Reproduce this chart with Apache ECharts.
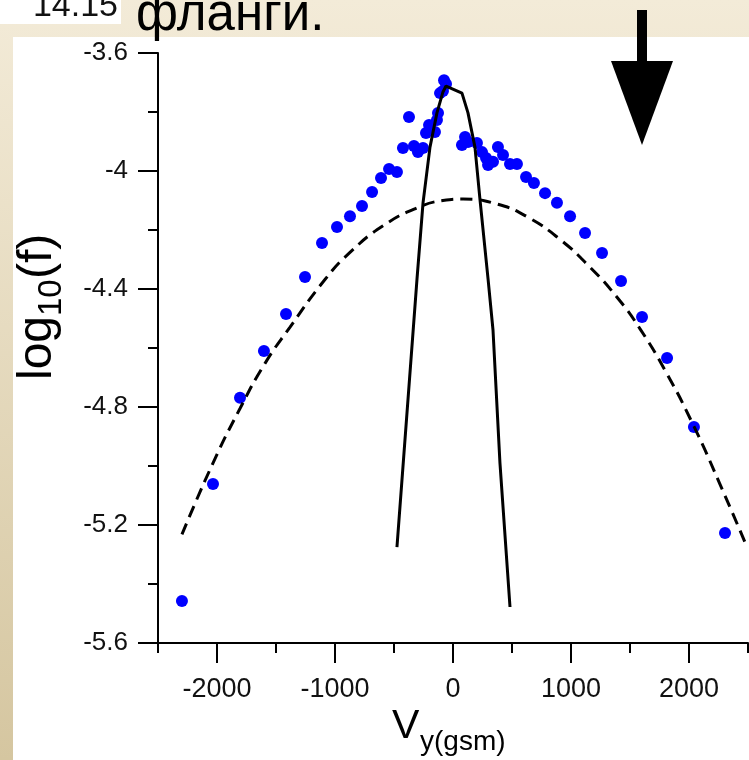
<!DOCTYPE html>
<html><head><meta charset="utf-8">
<script src="https://cdn.jsdelivr.net/npm/echarts@6/dist/echarts.min.js"></script>
<style>html,body{margin:0;padding:0;background:#fff}#c{width:749px;height:760px}</style>
</head><body><div id="c"></div>
<script>
// measured points (blue dots)
const scatterV = [-2297,-2034,-1805,-1602,-1415,-1254,-1110,-983,-873,-771,-686,-610,-542,-475,-424,-373,-331,-297,-254,-229,-203,-153,-136,-127,-110,-85,-59,-76,
  76,102,127,203,246,280,297,339,381,424,483,542,619,686,780,881,992,1119,1263,1424,1602,1814,2042,2305];
const scatterLogF = [-5.458,-5.061,-4.769,-4.610,-4.485,-4.359,-4.244,-4.190,-4.153,-4.119,-4.071,-4.024,-3.993,-4.003,-3.922,-3.817,-3.915,-3.936,-3.922,-3.871,-3.844,-3.868,-3.827,-3.803,-3.736,-3.729,-3.705,-3.692,
  -3.912,-3.885,-3.902,-3.905,-3.936,-3.956,-3.980,-3.969,-3.919,-3.946,-3.976,-3.976,-4.020,-4.041,-4.075,-4.108,-4.153,-4.210,-4.278,-4.373,-4.495,-4.634,-4.868,-5.227];
// dashed curve
const dashedV = [-2297,-2034,-1805,-1593,-1381,-1085,-873,-593,-305,-85,85,373,636,907,1161,1390,1585,1814,2042,2263,2492];
const dashedLogF = [-5.232,-4.990,-4.805,-4.652,-4.529,-4.368,-4.276,-4.186,-4.125,-4.100,-4.095,-4.112,-4.157,-4.232,-4.326,-4.428,-4.535,-4.688,-4.866,-5.062,-5.275];
// solid narrow curve
const solidV = [-475,-305,-254,-195,-136,-85,-59,76,127,186,229,297,339,398,483];
const solidLogF = [-5.275,-4.366,-4.108,-3.919,-3.803,-3.732,-3.712,-3.736,-3.803,-3.919,-4.098,-4.366,-4.539,-4.990,-5.478];
// ticks
const xMajorTicks = [-2000,-1000,0,1000,2000];
const xMinorTicks = [-2500,-1500,-500,500,1500,2500];
const yMin = -5.6, yMax = -3.6, yStep = 0.4;
const xMin = -2500, xMax = 2500;

const FONT = '"Liberation Sans", Arial, sans-serif';
const zip = (a, b) => a.map((v, i) => [v, b[i]]);

const chart = echarts.init(document.getElementById('c'), null, {renderer: 'canvas'});
chart.setOption({
  animation: false,
  backgroundColor: {type: 'linear', x: 0, y: 0, x2: 0, y2: 1,
    colorStops: [{offset: 0, color: '#f3ebd8'}, {offset: 1, color: '#d5c6a0'}]},
  grid: {left: 158, right: 1, top: 53, bottom: 117, containLabel: false},
  xAxis: [{
    type: 'value', min: xMin, max: xMax,
    axisLine: {show: true, onZero: false, lineStyle: {color: '#000', width: 2}},
    axisTick: {show: true, customValues: xMajorTicks, length: 20, lineStyle: {color: '#000', width: 2}},
    axisLabel: {customValues: xMajorTicks, margin: 33, fontSize: 27, color: '#111', fontFamily: FONT,
      formatter: v => String(v)},
    splitLine: {show: false}
  }, {
    type: 'value', min: xMin, max: xMax, position: 'bottom',
    axisLine: {show: false},
    axisTick: {show: true, customValues: xMinorTicks, length: 10, lineStyle: {color: '#000', width: 2}},
    axisLabel: {show: false},
    splitLine: {show: false}
  }],
  yAxis: {
    type: 'value', min: yMin, max: yMax, interval: yStep,
    axisLine: {show: true, onZero: false, lineStyle: {color: '#000', width: 2}},
    axisTick: {show: true, length: 20, lineStyle: {color: '#000', width: 2}},
    minorTick: {show: true, splitNumber: 2, length: 10, lineStyle: {color: '#000', width: 2}},
    axisLabel: {margin: 30, fontSize: 26, color: '#111', fontFamily: FONT,
      formatter: v => String(Number(v.toFixed(1)))},
    splitLine: {show: false}
  },
  graphic: [
    {type: 'rect', z: -10, shape: {x: 13, y: 37, width: 736, height: 723}, style: {fill: '#ffffff'}},
    {type: 'rect', z: -10, shape: {x: 0, y: 0, width: 121, height: 24}, style: {fill: '#ffffff'}},
    {type: 'text', z: 5, x: 118, y: 7, style: {text: '14.15', font: '34px ' + FONT, fill: '#111', align: 'right', verticalAlign: 'middle'}},
    {type: 'text', z: 5, x: 136, y: 16, style: {text: 'фланги.', font: '51px ' + FONT, fill: '#000', align: 'left', verticalAlign: 'middle'}},
    {type: 'rect', z: 5, shape: {x: 637, y: 10, width: 10, height: 52}, style: {fill: '#000'}},
    {type: 'polygon', z: 5, shape: {points: [[611, 61], [673, 61], [642, 145]]}, style: {fill: '#000'}},
    // x axis name
    {type: 'text', z: 5, x: 392, y: 727, style: {text: 'V', font: '41px ' + FONT, fill: '#000', align: 'left', verticalAlign: 'middle'}},
    {type: 'text', z: 5, x: 420, y: 742, style: {text: 'y(gsm)', font: '28px ' + FONT, fill: '#000', align: 'left', verticalAlign: 'middle'}},
    // y axis name (rotated)
    {type: 'text', z: 5, x: 38, y: 380, rotation: Math.PI / 2, style: {text: 'log', font: '48px ' + FONT, fill: '#000', align: 'left', verticalAlign: 'middle'}},
    {type: 'text', z: 5, x: 52, y: 316, rotation: Math.PI / 2, style: {text: '10', font: '33px ' + FONT, fill: '#000', align: 'left', verticalAlign: 'middle'}},
    {type: 'text', z: 5, x: 38, y: 279, rotation: Math.PI / 2, style: {text: '(f)', font: '48px ' + FONT, fill: '#000', align: 'left', verticalAlign: 'middle'}}
  ],
  series: [
    {type: 'scatter', z: 2, data: zip(scatterV, scatterLogF), symbol: 'circle', symbolSize: 12,
      itemStyle: {color: '#0000ff', opacity: 1}},
    {type: 'line', z: 3, data: zip(dashedV, dashedLogF), showSymbol: false, smooth: 0.5,
      lineStyle: {color: '#000', width: 3, type: [12, 7]}},
    {type: 'line', z: 3, data: zip(solidV, solidLogF), showSymbol: false, smooth: false,
      lineStyle: {color: '#000', width: 3}}
  ]
});
</script>
</body></html>
